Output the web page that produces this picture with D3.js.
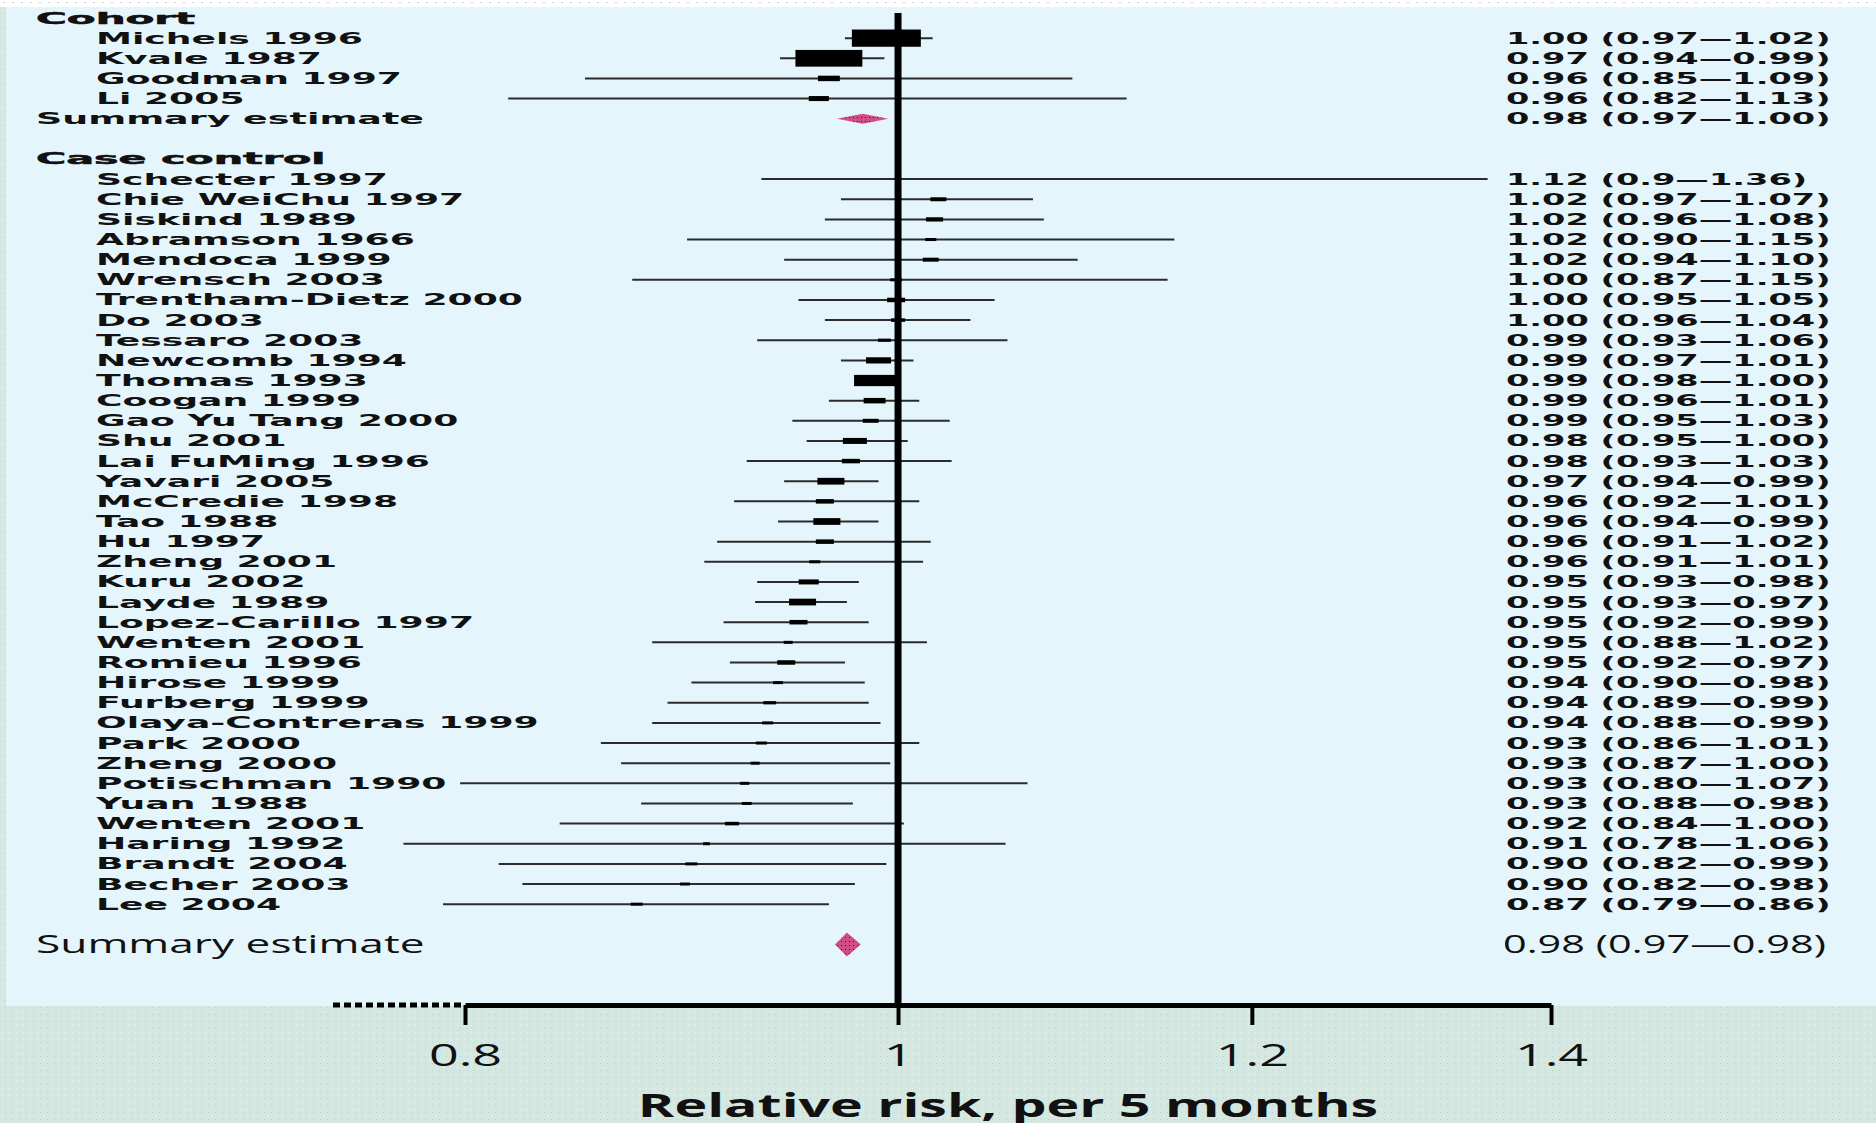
<!DOCTYPE html>
<html>
<head>
<meta charset="utf-8">
<script src="https://cdn.jsdelivr.net/npm/d3@7"></script>
<style>
body { margin: 0; overflow: hidden; background: #d4e7e1; }
</style>
</head>
<body>
<div id="chart"></div>
<script>
// cohort studies
var cohortNames = ["Michels 1996", "Kvale 1987", "Goodman 1997", "Li 2005"];
var cohortEst = [0.994, 0.965, 0.965, 0.960];
var cohortLo = [0.973, 0.941, 0.851, 0.818];
var cohortHi = [1.018, 0.993, 1.094, 1.125];
var cohortWeight = [23, 22.3, 7.3, 6.7];
var cohortText = ["1.00 (0.97—1.02)", "0.97 (0.94—0.99)", "0.96 (0.85—1.09)", "0.96 (0.82—1.13)"];
var cohortSummary = {est: 0.982, lo: 0.969, hi: 0.995, text: "0.98 (0.97—1.00)"};

// case control studies
var caseNames = ["Schecter 1997", "Chie WeiChu 1997", "Siskind 1989", "Abramson 1966", "Mendoca 1999",
    "Wrensch 2003", "Trentham-Dietz 2000", "Do 2003", "Tessaro 2003", "Newcomb 1994", "Thomas 1993",
    "Coogan 1999", "Gao Yu Tang 2000", "Shu 2001", "Lai FuMing 1996", "Yavari 2005", "McCredie 1998",
    "Tao 1988", "Hu 1997", "Zheng 2001", "Kuru 2002", "Layde 1989", "Lopez-Carillo 1997", "Wenten 2001",
    "Romieu 1996", "Hirose 1999", "Furberg 1999", "Olaya-Contreras 1999", "Park 2000", "Zheng 2000",
    "Potischman 1990", "Yuan 1988", "Wenten 2001", "Haring 1992", "Brandt 2004", "Becher 2003", "Lee 2004"];
var caseEst = [1.120, 1.021, 1.019, 1.017, 1.017, 0.999, 0.999, 1.000, 0.993, 0.990,
    0.989, 0.988, 0.986, 0.978, 0.976, 0.966, 0.963, 0.964, 0.963, 0.958,
    0.955, 0.952, 0.950, 0.945, 0.944, 0.940, 0.936, 0.935, 0.932, 0.929,
    0.924, 0.925, 0.918, 0.906, 0.899, 0.896, 0.874];
var caseLo = [0.932, 0.971, 0.963, 0.897, 0.943, 0.872, 0.950, 0.963, 0.930, 0.971,
    0.978, 0.965, 0.947, 0.954, 0.925, 0.943, 0.919, 0.940, 0.911, 0.905,
    0.930, 0.929, 0.914, 0.881, 0.917, 0.899, 0.888, 0.881, 0.858, 0.867,
    0.798, 0.876, 0.840, 0.775, 0.814, 0.824, 0.791];
var caseHi = [1.355, 1.072, 1.078, 1.153, 1.097, 1.149, 1.051, 1.038, 1.058, 1.008,
    0.999, 1.011, 1.027, 1.005, 1.028, 0.990, 1.011, 0.990, 1.017, 1.013,
    0.980, 0.974, 0.985, 1.015, 0.973, 0.983, 0.985, 0.991, 1.011, 0.996,
    1.069, 0.977, 1.003, 1.057, 0.994, 0.978, 0.965];
var caseWeight = [0, 5.3, 5.7, 3.7, 5.3, 4, 6, 4.7, 4.3, 8.3,
    15, 7.3, 5.3, 8, 6, 9, 6, 9, 6, 3.7,
    6.7, 9, 6, 3, 6, 3.3, 4.3, 3.7, 3.7, 3,
    3, 3.3, 4.7, 2.3, 4, 3.3, 4];
var caseText = ["1.12 (0.9—1.36)", "1.02 (0.97—1.07)", "1.02 (0.96—1.08)", "1.02 (0.90—1.15)",
    "1.02 (0.94—1.10)", "1.00 (0.87—1.15)", "1.00 (0.95—1.05)", "1.00 (0.96—1.04)", "0.99 (0.93—1.06)",
    "0.99 (0.97—1.01)", "0.99 (0.98—1.00)", "0.99 (0.96—1.01)", "0.99 (0.95—1.03)", "0.98 (0.95—1.00)",
    "0.98 (0.93—1.03)", "0.97 (0.94—0.99)", "0.96 (0.92—1.01)", "0.96 (0.94—0.99)", "0.96 (0.91—1.02)",
    "0.96 (0.91—1.01)", "0.95 (0.93—0.98)", "0.95 (0.93—0.97)", "0.95 (0.92—0.99)", "0.95 (0.88—1.02)",
    "0.95 (0.92—0.97)", "0.94 (0.90—0.98)", "0.94 (0.89—0.99)", "0.94 (0.88—0.99)", "0.93 (0.86—1.01)",
    "0.93 (0.87—1.00)", "0.93 (0.80—1.07)", "0.93 (0.88—0.98)", "0.92 (0.84—1.00)", "0.91 (0.78—1.06)",
    "0.90 (0.82—0.99)", "0.90 (0.82—0.98)", "0.87 (0.79—0.86)"];
var allSummary = {est: 0.974, lo: 0.968, hi: 0.981, text: "0.98 (0.97—0.98)"};

// axis
var tickValues = [0.8, 1, 1.2, 1.4];
var tickLabels = ["0.8", "1", "1.2", "1.4"];
var axisTitle = "Relative risk, per 5 months";

var W = 1876, H = 1123;
var axisY = 1005;

var svg = d3.select("#chart").append("svg")
    .attr("width", W)
    .attr("height", H);

// textures
var defs = svg.append("defs");
var bgPat = defs.append("pattern").attr("id", "bgDots")
    .attr("width", 7).attr("height", 7).attr("patternUnits", "userSpaceOnUse");
bgPat.append("rect").attr("width", 7).attr("height", 7).attr("fill", "#d4e7e1");
bgPat.append("rect").attr("x", 2).attr("y", 3).attr("width", 1).attr("height", 1).attr("fill", "#eef7f4");
bgPat.append("rect").attr("x", 5).attr("y", 6).attr("width", 1).attr("height", 1).attr("fill", "#b9d2ca");

var topPat = defs.append("pattern").attr("id", "topDots")
    .attr("width", 9).attr("height", 7).attr("patternUnits", "userSpaceOnUse");
topPat.append("rect").attr("width", 9).attr("height", 7).attr("fill", "#ffffff");
topPat.append("rect").attr("x", 3).attr("y", 2).attr("width", 2).attr("height", 1).attr("fill", "#c9d6d6");

var pinkPat = defs.append("pattern").attr("id", "pinkDots")
    .attr("width", 4).attr("height", 4).attr("patternUnits", "userSpaceOnUse");
pinkPat.append("rect").attr("width", 4).attr("height", 4).attr("fill", "#d24d86");
pinkPat.append("rect").attr("x", 1).attr("y", 1).attr("width", 1).attr("height", 1).attr("fill", "#3b1325");

// backgrounds
svg.append("rect").attr("width", W).attr("height", H).attr("fill", "url(#bgDots)");
svg.append("rect").attr("width", W).attr("height", 7).attr("fill", "url(#topDots)");
svg.append("rect").attr("x", 6).attr("y", 7).attr("width", W - 6).attr("height", axisY - 6)
    .attr("fill", "#e4f6fc");

// scales
var x = d3.scaleLog()
    .domain([0.8, 1.4])
    .range([465, 1551]);

var rowKeys = ["hdrCohort"]
    .concat(cohortNames.map((d, i) => "c" + i))
    .concat(["sumCohort", "gap1", "hdrCase"])
    .concat(caseNames.map((d, i) => "k" + i))
    .concat(["gap2", "sumAll"]);

var y = d3.scalePoint()
    .domain(rowKeys)
    .range([18, 18 + (rowKeys.length - 1) * 20.14]);

var boxW = d3.scaleLinear().domain([0, 23]).range([0, 69]);

var studies = cohortNames.map((d, i) => ({
    key: "c" + i, name: d, est: cohortEst[i], lo: cohortLo[i], hi: cohortHi[i],
    weight: cohortWeight[i], text: cohortText[i]
})).concat(caseNames.map((d, i) => ({
    key: "k" + i, name: d, est: caseEst[i], lo: caseLo[i], hi: caseHi[i],
    weight: caseWeight[i], text: caseText[i]
})));

// stretched text helper (the original lettering is very wide)
function wideText(g, px, py, str, sx) {
    return g.append("text")
        .attr("transform", `translate(${px},${py}) scale(${sx},1)`)
        .text(str);
}

var labels = svg.append("g")
    .style("font-family", "DejaVu Sans")
    .style("font-size", "15px")
    .style("font-weight", "bold")
    .attr("fill", "#111");

// headers
wideText(labels, 36, y("hdrCohort") + 5.5, "Cohort", 2.8).attr("stroke", "#111").attr("stroke-width", 0.5);
wideText(labels, 36, y("hdrCase") + 5.5, "Case control", 2.75).attr("stroke", "#111").attr("stroke-width", 0.5);

// study names and values
studies.forEach(d => {
    wideText(labels, 96, y(d.key) + 5.5, d.name, 2.41);
    wideText(labels, 1506, y(d.key) + 5.5, d.text, 2.24);
});
wideText(labels, 36, y("sumCohort") + 5.5, "Summary estimate", 2.43);
wideText(labels, 1506, y("sumCohort") + 5.5, cohortSummary.text, 2.24);

// overall summary (larger, regular weight)
var big = svg.append("g")
    .style("font-family", "Open Sans")
    .style("font-size", "25px")
    .style("font-weight", 500)
    .attr("fill", "#111");
wideText(big, 36, y("sumAll") + 8.5, "Summary estimate", 1.77);
wideText(big, 1503, y("sumAll") + 8.5, allSummary.text, 1.66);

// whiskers
svg.append("g").selectAll("line")
    .data(studies)
    .enter().append("line")
    .attr("x1", d => x(d.lo))
    .attr("x2", d => x(d.hi))
    .attr("y1", d => y(d.key))
    .attr("y2", d => y(d.key))
    .attr("stroke", "#2b2b2b")
    .attr("stroke-width", 2);

// reference line at 1
svg.append("line")
    .attr("x1", x(1)).attr("x2", x(1))
    .attr("y1", 13).attr("y2", axisY)
    .attr("stroke", "#000")
    .attr("stroke-width", 7);

// boxes
svg.append("g").selectAll("rect")
    .data(studies.filter(d => d.weight > 0))
    .enter().append("rect")
    .attr("x", d => x(d.est) - boxW(d.weight) / 2)
    .attr("width", d => boxW(d.weight))
    .attr("y", d => y(d.key) - Math.max(3, boxW(d.weight) / 4) / 2)
    .attr("height", d => Math.max(3, boxW(d.weight) / 4))
    .attr("fill", "#000");

// summary diamonds
function diamond(s, key, h) {
    var cy = y(key);
    svg.append("path")
        .attr("d", `M${x(s.lo)},${cy}L${x(s.est)},${cy - h / 2}L${x(s.hi)},${cy}L${x(s.est)},${cy + h / 2}Z`)
        .attr("fill", "url(#pinkDots)");
}
diamond(cohortSummary, "sumCohort", 10);
diamond(allSummary, "sumAll", 24);

// X axis
var axisG = svg.append("g")
    .attr("transform", `translate(0,${axisY})`)
    .call(d3.axisBottom(x)
        .tickValues(tickValues)
        .tickFormat((d, i) => tickLabels[i])
        .tickSize(20)
        .tickSizeOuter(0));
axisG.select(".domain").attr("stroke", "#000").attr("stroke-width", 5);
axisG.selectAll(".tick line").attr("stroke", "#000").attr("stroke-width", 4);
axisG.selectAll(".tick text")
    .attr("y", 39)
    .attr("transform", "scale(1.68,1)")
    .attr("fill", "#111")
    .style("font-family", "Open Sans")
    .style("font-size", "31px");

// dotted start of the axis
svg.append("line")
    .attr("x1", 333).attr("x2", x(0.8))
    .attr("y1", axisY).attr("y2", axisY)
    .attr("stroke", "#000")
    .attr("stroke-width", 5)
    .attr("stroke-dasharray", "7,4");

// X label
var title = svg.append("g")
    .style("font-family", "Open Sans")
    .style("font-size", "33px")
    .style("font-weight", "bold")
    .attr("fill", "#111");
wideText(title, 1008, 1117, axisTitle, 1.68).attr("text-anchor", "middle");
</script>
</body>
</html>
